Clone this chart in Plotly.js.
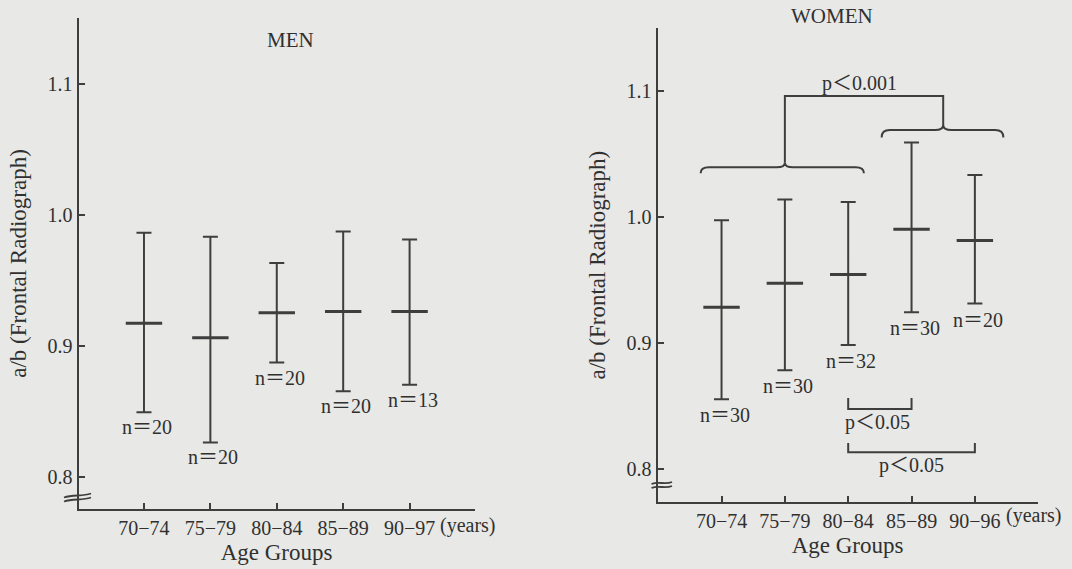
<!DOCTYPE html>
<html>
<head>
<meta charset="utf-8">
<script src="https://cdn.plot.ly/plotly-3.0.1.min.js"></script>
<style>html,body{margin:0;padding:0;background:#e8e8e6;}#chart{width:1072px;height:569px;}</style>
</head>
<body>
<div id="chart"></div>
<script>
// ---- data ----
const categoriesMen = ['70−74', '75−79', '80−84', '85−89', '90−97'];
const categoriesWomen = ['70−74', '75−79', '80−84', '85−89', '90−96'];
const menMean  = [0.917, 0.906, 0.925, 0.926, 0.926];
const menUpper = [0.986, 0.983, 0.963, 0.987, 0.981];
const menLower = [0.849, 0.826, 0.887, 0.865, 0.870];
const menN = [20, 20, 20, 20, 13];
const womenMean  = [0.928, 0.947, 0.954, 0.990, 0.981];
const womenUpper = [0.997, 1.0135, 1.0115, 1.0587, 1.033];
const womenLower = [0.855, 0.878, 0.898, 0.924, 0.931];
const womenN = [30, 30, 32, 30, 20];
const yTickVals = [0.8, 0.9, 1.0, 1.1];
const yTickText = ['0.8', '0.9', '1.0', '1.1'];
const sigLabels = ['p＜0.001', 'p＜0.05', 'p＜0.05'];

// ---- styling ----
const W = 1072, H = 569;
const FONT = "Liberation Serif, Noto Sans CJK JP, serif";
const INK = '#303030';
const LINE = '#3e3e3e';
const px = v => v / W;           // pixel -> paper x
const py = v => 1 - v / H;       // pixel -> paper y

function errTrace(cats, mean, up, lo, xa, ya) {
  const idx = cats.map((c, i) => i);
  return {
    type: 'scatter', mode: 'markers', x: idx, y: mean, xaxis: xa, yaxis: ya,
    marker: {symbol: 'line-ew', size: 26, color: LINE, line: {color: LINE, width: 3}},
    error_y: {type: 'data', symmetric: false,
      array: up.map((u, i) => u - mean[i]),
      arrayminus: lo.map((l, i) => mean[i] - l),
      width: 7.5, thickness: 2, color: LINE},
    hoverinfo: 'skip', showlegend: false
  };
}

const data = [
  errTrace(categoriesMen, menMean, menUpper, menLower, 'x', 'y'),
  errTrace(categoriesWomen, womenMean, womenUpper, womenLower, 'x2', 'y2')
];

function xAxis(domain, range, cats) {
  return {
    domain: domain, range: range, tickmode: 'array',
    tickvals: cats.map((c, i) => i), ticktext: cats,
    ticks: 'inside', ticklen: 6, tickwidth: 2, tickcolor: LINE,
    showline: true, linecolor: LINE, linewidth: 2, showgrid: false, zeroline: false,
    tickfont: {family: FONT, size: 20, color: INK},
    title: {text: 'Age Groups', font: {family: FONT, size: 23, color: INK}, standoff: 6},
    fixedrange: true
  };
}
function yAxis(domain, range, anchor) {
  return {
    domain: domain, range: range, anchor: anchor, tickmode: 'array',
    tickvals: yTickVals, ticktext: yTickText,
    ticks: 'inside', ticklen: 6, tickwidth: 2, tickcolor: LINE,
    showline: true, linecolor: LINE, linewidth: 2, showgrid: false, zeroline: false,
    tickfont: {family: FONT, size: 20, color: INK},
    title: {text: 'a/b (Frontal Radiograph)', font: {family: FONT, size: 23, color: INK}, standoff: 14},
    fixedrange: true
  };
}

const annotations = [];
const txt = (t, opts) => Object.assign({text: t, showarrow: false,
  font: {family: FONT, size: 20, color: INK}}, opts);

// n labels under each error bar
menN.forEach((n, i) => annotations.push(txt('n＝' + n,
  {xref: 'x', yref: 'y', x: i, y: menLower[i], yanchor: 'top', xanchor: 'center', xshift: 3, yshift: -2})));
womenN.forEach((n, i) => annotations.push(txt('n＝' + n,
  {xref: 'x2', yref: 'y2', x: i, y: womenLower[i], yanchor: 'top', xanchor: 'center', xshift: 3, yshift: -3})));

// panel titles
annotations.push(txt('MEN', {xref: 'paper', yref: 'paper', x: px(290), y: py(40), xanchor: 'center', yanchor: 'middle', font: {family: FONT, size: 21, color: INK}}));
annotations.push(txt('WOMEN', {xref: 'paper', yref: 'paper', x: px(832), y: py(16), xanchor: 'center', yanchor: 'middle', font: {family: FONT, size: 21, color: INK}}));

// "(years)" units after last tick label
annotations.push(txt('(years)', {xref: 'x', yref: 'paper', x: 4, y: py(525.5), xanchor: 'left', yanchor: 'middle', xshift: 28}));
annotations.push(txt('(years)', {xref: 'x2', yref: 'paper', x: 4, y: py(515.5), xanchor: 'left', yanchor: 'middle', xshift: 29}));

// significance labels
annotations.push(txt(sigLabels[0], {xref: 'x2', yref: 'y2', x: 2.185, y: 1.1056, xanchor: 'center', yanchor: 'middle'}));
annotations.push(txt(sigLabels[1], {xref: 'x2', yref: 'y2', x: 2.46, y: 0.8362, xanchor: 'center', yanchor: 'middle'}));
annotations.push(txt(sigLabels[2], {xref: 'x2', yref: 'y2', x: 3.0, y: 0.8024, xanchor: 'center', yanchor: 'middle'}));

// ---- bracket shapes (women panel) ----
function brace(x0, x1, xm, yEnd, yLine, yApex, dx) {
  return `M ${x0},${yEnd} Q ${x0},${yLine} ${x0 + dx},${yLine} L ${xm - dx},${yLine} ` +
         `Q ${xm},${yLine} ${xm},${yApex} Q ${xm},${yLine} ${xm + dx},${yLine} ` +
         `L ${x1 - dx},${yLine} Q ${x1},${yLine} ${x1},${yEnd}`;
}
const lineStyle = {color: LINE, width: 2};
const shapes = [
  {type: 'path', xref: 'x2', yref: 'y2', line: lineStyle, path: brace(-0.33, 2.248, 1.0, 1.0343, 1.0391, 1.0427, 0.13)},
  {type: 'path', xref: 'x2', yref: 'y2', line: lineStyle, path: brace(2.528, 4.45, 3.5, 1.0628, 1.0686, 1.0726, 0.13)},
  {type: 'path', xref: 'x2', yref: 'y2', line: lineStyle, path: 'M 1,1.0427 L 1,1.0956 L 3.5,1.0956 L 3.5,1.0726'},
  {type: 'path', xref: 'x2', yref: 'y2', line: lineStyle, path: 'M 2,0.856 L 2,0.8473 L 3,0.8473 L 3,0.856'},
  {type: 'path', xref: 'x2', yref: 'y2', line: lineStyle, path: 'M 2,0.8204 L 2,0.8129 L 4,0.8129 L 4,0.8204'}
];
// axis break marks
function wave(xa, ya, xb, yb, h) {
  const w = xb - xa;
  return `M ${px(xa)},${py(ya)} C ${px(xa + w / 3)},${py(ya - h)} ${px(xb - w / 3)},${py(yb + h)} ${px(xb)},${py(yb)}`;
}
[[64, 497.5, 91, 493.5], [64, 501.5, 91, 497.5], [651.5, 484, 672, 482], [651.5, 488, 672, 486]].forEach(s => {
  shapes.push({type: 'path', xref: 'paper', yref: 'paper', line: {color: LINE, width: 1.8}, path: wave(s[0], s[1], s[2], s[3], 3)});
});

const layout = {
  width: W, height: H,
  margin: {l: 0, r: 0, t: 0, b: 0},
  paper_bgcolor: '#e8e8e6', plot_bgcolor: 'rgba(0,0,0,0)',
  font: {family: FONT, color: INK},
  xaxis: xAxis([px(78.5), px(474.6)], [-0.986, 4.979], categoriesMen),
  yaxis: yAxis([1 - 509 / H, 1 - 18 / H], [0.7752, 1.15], 'x'),
  xaxis2: Object.assign(xAxis([px(657.5), px(1037.7)], [-1.011, 4.992], categoriesWomen), {anchor: 'y2'}),
  yaxis2: yAxis([1 - 502 / H, 1 - 28.3 / H], [0.7735, 1.1494], 'x2'),
  annotations: annotations,
  shapes: shapes,
  showlegend: false
};
layout.xaxis.anchor = 'y';

Plotly.newPlot('chart', data, layout, {staticPlot: true, displayModeBar: false});
</script>
</body>
</html>
